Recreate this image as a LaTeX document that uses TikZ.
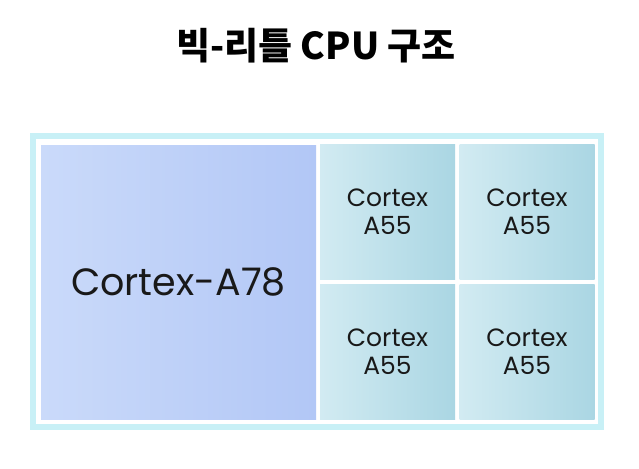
\documentclass[tikz,border=0pt]{standalone}
\usepackage{fontspec}
\setmainfont{Poppins}
\newfontfamily\cjk{Noto Sans CJK KR}
\definecolor{frame}{RGB}{200,240,246}
\definecolor{bigL}{RGB}{202,218,250}
\definecolor{bigR}{RGB}{178,199,246}
\definecolor{smL}{RGB}{210,235,242}
\definecolor{smR}{RGB}{170,214,227}
\begin{document}
\begin{tikzpicture}[x=1pt,y=-1pt,
  tile/.style={inner sep=0pt,align=center,text=black!90},
  big/.style={tile,left color=bigL,right color=bigR,minimum width=275pt,minimum height=274pt,font=\fontsize{38}{42}\selectfont},
  small/.style={tile,left color=smL,right color=smR,minimum width=135pt,minimum height=135pt,font=\fontsize{25}{28}\selectfont}]
\useasboundingbox[fill=white] (0,0) rectangle (639,468);
\node[inner sep=0pt,font=\cjk\bfseries\fontsize{37}{42}\selectfont] (title) at (316,46) {빅-리틀 CPU 구조};
\node[draw=frame,line width=6pt,fill=white,minimum width=568pt,minimum height=291pt,inner sep=0pt] (frm) at (317,281.5) {};
\node[big] (a78) at (178.5,282) {Cortex-A78};
\node[small] (s1) at (387.5,212) {Cortex\\A55};
\node[small] (s2) at (527,212) {Cortex\\A55};
\node[small] (s3) at (387.5,351.5) {Cortex\\A55};
\node[small] (s4) at (527,351.5) {Cortex\\A55};
\end{tikzpicture}
\end{document}
